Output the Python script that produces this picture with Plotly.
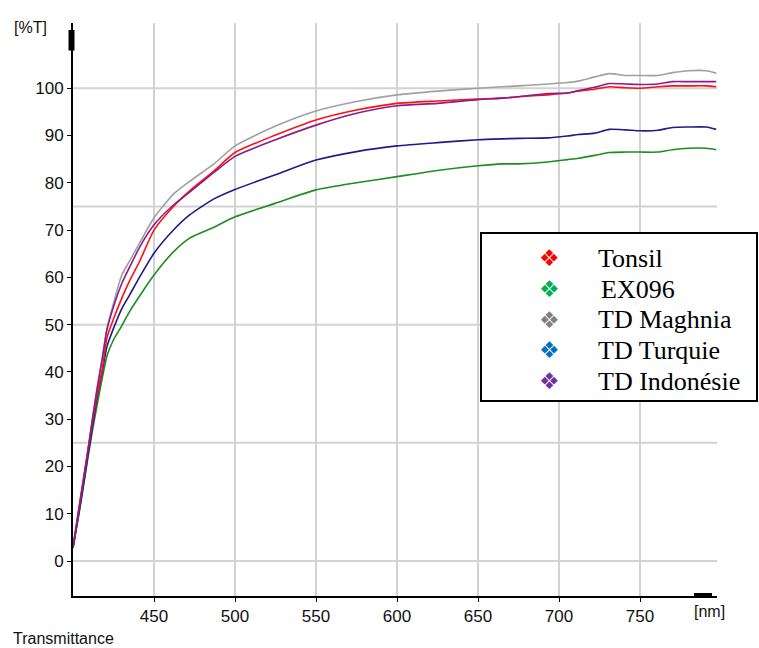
import plotly.graph_objects as go

# Wavelength grid (nm) shared by all spectra
wavelength = [400, 403, 406, 409, 412, 415, 418, 421, 425, 430, 435, 441, 450, 462,
              472, 487, 500, 525, 550, 575, 600, 625, 650, 665, 675, 693, 705, 712,
              722, 731, 741, 750, 761, 770, 780, 791, 797]

# Transmittance (%T) of each sample
tonsil = [3.0, 9.8, 16.5, 23.0, 29.4, 35.4, 40.3, 47.3, 51.2, 55.5, 59.3, 63.3, 70.0,
          75.0, 78.3, 82.5, 86.4, 90.1, 93.3, 95.4, 96.8, 97.3, 97.7, 97.9, 98.2, 98.6,
          99.0, 99.4, 99.8, 100.3, 100.1, 100.0, 100.3, 100.5, 100.5, 100.5, 100.3]
ex096 = [2.8, 8.6, 14.8, 21.4, 27.6, 33.2, 38.6, 43.4, 46.8, 49.7, 52.8, 56.0, 60.5,
         65.4, 68.3, 70.6, 72.8, 75.7, 78.5, 80.0, 81.3, 82.6, 83.6, 84.0, 84.0, 84.4,
         84.9, 85.2, 85.8, 86.4, 86.5, 86.5, 86.5, 87.0, 87.3, 87.3, 87.0]
td_maghnia = [2.8, 9.4, 16.0, 22.8, 30.2, 37.0, 43.0, 49.2, 54.5, 60.4, 63.5, 67.2, 72.6,
              77.6, 80.3, 84.0, 87.8, 92.0, 95.2, 97.2, 98.6, 99.4, 100.0, 100.3, 100.5,
              100.9, 101.2, 101.5, 102.4, 103.1, 102.7, 102.7, 102.7, 103.3, 103.7, 103.7, 103.2]
td_turquie = [2.8, 8.8, 15.2, 21.8, 28.4, 34.8, 40.0, 45.4, 49.2, 53.3, 56.3, 60.0, 65.1,
              70.0, 73.2, 76.6, 78.6, 81.7, 84.8, 86.6, 87.8, 88.5, 89.1, 89.3, 89.4, 89.5,
              89.9, 90.2, 90.5, 91.3, 91.2, 91.0, 91.1, 91.7, 91.8, 91.8, 91.3]
td_indonesie = [2.8, 9.4, 16.0, 22.8, 30.0, 36.6, 42.6, 49.0, 53.8, 58.6, 62.2, 66.3, 71.1,
                75.3, 78.0, 82.2, 85.6, 89.1, 92.2, 94.7, 96.3, 96.8, 97.6, 97.9, 98.2, 98.9,
                99.0, 99.5, 100.2, 101.0, 100.9, 100.8, 100.9, 101.4, 101.4, 101.4, 101.4]

legend_labels = ["Tonsil", "EX096", "TD Maghnia", "TD Turquie", "TD Indonésie"]
x_ticks = [450, 500, 550, 600, 650, 700, 750]
y_ticks = [0, 10, 20, 30, 40, 50, 60, 70, 80, 90, 100]
y_grid = [0, 25, 50, 75, 100]

W, H = 759, 648
L, R, T, B = 73, 717, 23, 596  # plot area in pixels


def fx(px):
    return (px - L) / (R - L)


def fy(py):
    return (B - py) / (B - T)


NARROW = "Liberation Sans Narrow, Arial Narrow, Liberation Sans, Arial, sans-serif"
SERIF = "Liberation Serif, Times New Roman, serif"

fig = go.Figure()

curves = [
    (td_maghnia, "#a0a0a0", "TD Maghnia"),
    (ex096, "#1f8c1f", "EX096"),
    (td_turquie, "#1c1c8c", "TD Turquie"),
    (tonsil, "#ff1010", "Tonsil"),
    (td_indonesie, "#8c1c8c", "TD Indonésie"),
]
for vals, col, name in curves:
    fig.add_trace(go.Scatter(x=wavelength, y=vals, mode="lines", name=name,
                             line=dict(color=col, width=1.6, shape="spline", smoothing=0.6),
                             showlegend=False, hoverinfo="skip"))

shapes = []
# horizontal grid every 25 %T
for g in y_grid:
    shapes.append(dict(type="line", xref="paper", yref="y", x0=0, x1=1, y0=g, y1=g,
                       line=dict(color="#d2d2d2", width=2), layer="below"))
# arrow heads on the axes
shapes.append(dict(type="rect", xref="paper", yref="paper",
                   x0=fx(68.5), x1=fx(74.5), y0=fy(50.5), y1=fy(30),
                   fillcolor="black", line=dict(width=0), layer="above"))
shapes.append(dict(type="rect", xref="paper", yref="paper",
                   x0=fx(694), x1=fx(712), y0=fy(598), y1=fy(593),
                   fillcolor="black", line=dict(width=0), layer="above"))
# legend frame
shapes.append(dict(type="rect", xref="paper", yref="paper",
                   x0=fx(481), x1=fx(757), y0=fy(401), y1=fy(233),
                   fillcolor="white", line=dict(color="black", width=2), layer="above"))

annotations = [
    dict(text="[%T]", x=fx(30.5), y=fy(27), xref="paper", yref="paper", showarrow=False,
         xanchor="center", yanchor="middle", font=dict(family=NARROW, size=16, color="#111")),
    dict(text="[nm]", x=fx(709), y=fy(611), xref="paper", yref="paper", showarrow=False,
         xanchor="center", yanchor="middle", font=dict(family=NARROW, size=16, color="#111")),
    dict(text="Transmittance", x=fx(11), y=fy(638), xref="paper", yref="paper",
         showarrow=False, xanchor="left", yanchor="middle",
         font=dict(family=NARROW, size=16, color="#111")),
]

marker_cols = ["#ff0000", "#00b050", "#808080", "#0070c0", "#7030a0"]
row_y = [258, 289, 320, 350, 381]
text_x = [596, 599, 596, 596, 596]
for lab, mc, ry, tx in zip(legend_labels, marker_cols, row_y, text_x):
    annotations.append(dict(text="❖", x=fx(549), y=fy(ry), xref="paper", yref="paper",
                            showarrow=False, xanchor="center", yanchor="middle",
                            font=dict(family="DejaVu Sans", size=23, color=mc)))
    annotations.append(dict(text=lab, x=fx(tx), y=fy(ry), xref="paper", yref="paper",
                            showarrow=False, xanchor="left", yanchor="middle",
                            font=dict(family=SERIF, size=26, color="black")))

fig.update_layout(
    width=W, height=H, autosize=False,
    margin=dict(l=L, r=W - R, t=T, b=H - B, pad=0),
    plot_bgcolor="white", paper_bgcolor="white",
    shapes=shapes, annotations=annotations,
    xaxis=dict(range=[400, 797.5], tickmode="array", tickvals=x_ticks,
               showgrid=True, gridcolor="#d2d2d2", gridwidth=2, zeroline=False,
               showline=True, linecolor="black", linewidth=2,
               ticks="outside", ticklen=4, tickcolor="black", tickwidth=1,
               tickfont=dict(family=NARROW, size=17, color="#111")),
    yaxis=dict(range=[-7.4, 113.8], tickmode="array", tickvals=y_ticks,
               showgrid=False, zeroline=False,
               showline=True, linecolor="black", linewidth=2,
               ticks="outside", ticklen=4, tickcolor="black", tickwidth=1,
               tickfont=dict(family=NARROW, size=17, color="#111")),
    hovermode=False,
)

fig.write_html("out.html")
